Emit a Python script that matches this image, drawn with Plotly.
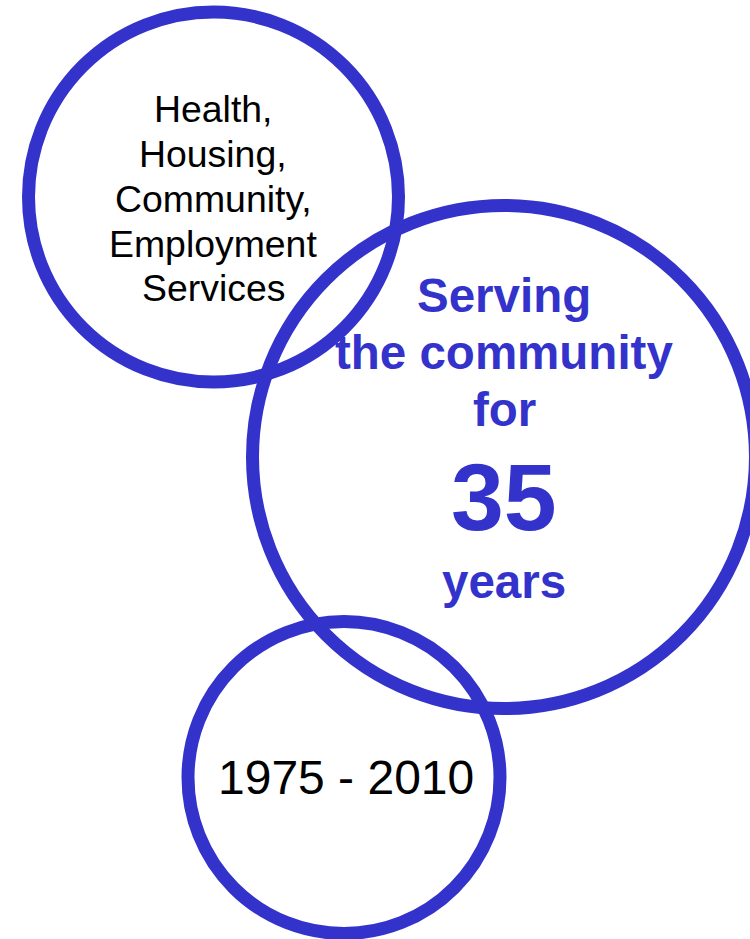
import plotly.graph_objects as go

# Circles (centre x, centre y, radius) in page pixel units
circle_names = ["services", "serving", "years"]
circle_cx = [213.5, 504, 344]
circle_cy = [197, 457, 777.5]
circle_r = [185, 251.5, 156]

# Text lines
line_texts = ["Health,", "Housing,", "Community,", "Employment", "Services",
              "Serving", "the community", "for", "35", "years",
              "1975 - 2010"]
line_x = [213, 213, 213, 213, 213,
          504, 504, 504, 504, 504,
          346]
line_y = [109, 154, 199, 244, 288,
          295, 352, 409, 497, 581,
          777.5]
line_size = [37.4, 37.4, 37.4, 37.4, 37.4,
             47.5, 47.5, 47.5, 95, 47.5,
             48]
line_bold = [False] * 5 + [True] * 5 + [False]

BLUE = "#3333CC"
W, H = 750, 939

fig = go.Figure()

for cx, cy, r in zip(circle_cx, circle_cy, circle_r):
    fig.add_shape(type="circle", xref="x", yref="y",
                  x0=cx - r, x1=cx + r, y0=cy - r, y1=cy + r,
                  line=dict(color=BLUE, width=13), fillcolor="rgba(0,0,0,0)")

for t, x, y, s, b in zip(line_texts, line_x, line_y, line_size, line_bold):
    fig.add_annotation(x=x, y=y, xref="x", yref="y", showarrow=False,
                       text=f"<b>{t}</b>" if b else t,
                       xanchor="center", yanchor="middle",
                       font=dict(family="Liberation Sans, Arial, sans-serif",
                                 size=s, color=BLUE if b else "black"))

fig.update_layout(
    width=W, height=H,
    margin=dict(l=0, r=0, t=0, b=0),
    paper_bgcolor="white", plot_bgcolor="white",
    showlegend=False,
    xaxis=dict(range=[0, W], visible=False, showgrid=False, zeroline=False, fixedrange=True),
    yaxis=dict(range=[H, 0], visible=False, showgrid=False, zeroline=False, fixedrange=True),
)

fig.write_html("out.html",
               config={"displayModeBar": False, "staticPlot": True},
               post_script="document.body.style.margin='0px';document.body.style.overflow='hidden';")
